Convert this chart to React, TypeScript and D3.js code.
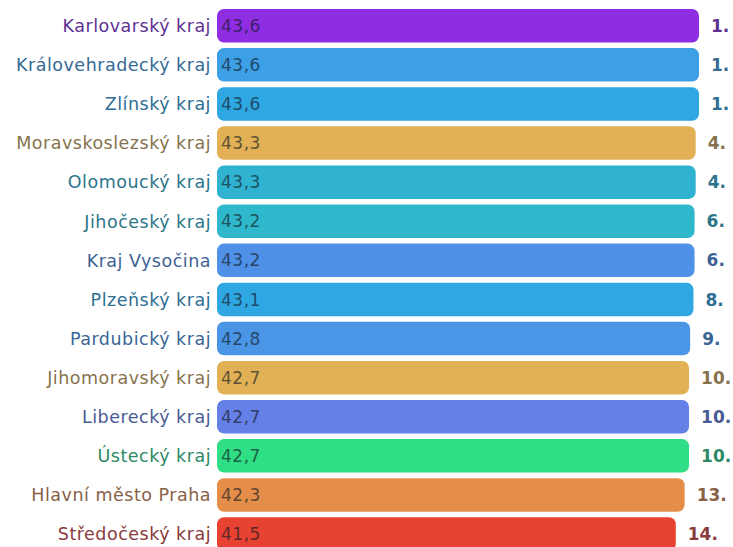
import { useRef, useEffect } from "react";
import * as d3 from "d3";

// kraje, seřazené podle hodnoty
const regions = [
  "Karlovarský kraj",
  "Královehradecký kraj",
  "Zlínský kraj",
  "Moravskoslezský kraj",
  "Olomoucký kraj",
  "Jihočeský kraj",
  "Kraj Vysočina",
  "Plzeňský kraj",
  "Pardubický kraj",
  "Jihomoravský kraj",
  "Liberecký kraj",
  "Ústecký kraj",
  "Hlavní město Praha",
  "Středočeský kraj",
];
const values = [43.6, 43.6, 43.6, 43.3, 43.3, 43.2, 43.2, 43.1, 42.8, 42.7, 42.7, 42.7, 42.3, 41.5];
const ranks = [1, 1, 1, 4, 4, 6, 6, 8, 9, 10, 10, 10, 13, 14];
const barColors = [
  "#8e2de2",
  "#3d9fe6",
  "#2fa7e2",
  "#e2b155",
  "#2fb3d1",
  "#2fb8cc",
  "#4f91e6",
  "#2fa7e2",
  "#4a95e6",
  "#e2b155",
  "#6580e6",
  "#30de85",
  "#e58e4a",
  "#e84233",
];

const width = 733;
const height = 547;

const App = () => {
  const ref = useRef<SVGSVGElement>(null);

  useEffect(() => {
    const svg = d3.select(ref.current);
    svg.selectAll("*").remove();

    const x = d3.scaleLinear().domain([0, 43.6]).range([217, 699]);
    const y = d3
      .scaleBand<string>()
      .domain(regions)
      .range([9, 550.8])
      .paddingInner(0.143)
      .paddingOuter(0);

    const labelColor = (c: string) => d3.interpolateRgb(c, "#2a3444")(0.5);
    const valueColor = (c: string) => d3.interpolateRgb(c, "#101820")(0.62);

    const rows = svg
      .selectAll("g.row")
      .data(regions)
      .join("g")
      .attr("class", "row");

    rows
      .append("rect")
      .attr("x", x(0))
      .attr("y", (d) => y(d)!)
      .attr("width", (_, i) => x(values[i]) - x(0))
      .attr("height", y.bandwidth())
      .attr("rx", 7)
      .attr("fill", (_, i) => barColors[i]);

    // název kraje vlevo
    rows
      .append("text")
      .attr("x", x(0) - 6)
      .attr("y", (d) => y(d)! + y.bandwidth() / 2)
      .attr("dy", "0.36em")
      .attr("text-anchor", "end")
      .attr("fill", (_, i) => labelColor(barColors[i]))
      .style("font-size", "17.5px")
      .style("letter-spacing", "0.5px")
      .text((d) => d);

    // hodnota v pruhu
    rows
      .append("text")
      .attr("x", x(0) + 4)
      .attr("y", (d) => y(d)! + y.bandwidth() / 2)
      .attr("dy", "0.36em")
      .attr("fill", (_, i) => valueColor(barColors[i]))
      .style("font-size", "17px")
      .style("letter-spacing", "0.5px")
      .text((_, i) => d3.format(".1f")(values[i]).replace(".", ","));

    // pořadí vpravo
    rows
      .append("text")
      .attr("x", (_, i) => x(values[i]) + 12)
      .attr("y", (d) => y(d)! + y.bandwidth() / 2)
      .attr("dy", "0.36em")
      .attr("fill", (_, i) => labelColor(barColors[i]))
      .style("font-size", "17px")
      .style("font-weight", "bold")
      .text((_, i) => ranks[i] + ".");
  }, []);

  return (
    <svg
      ref={ref}
      width={width}
      height={height}
      style={{
        position: "absolute",
        left: 0,
        top: 0,
        fontFamily: "'DejaVu Sans', sans-serif",
        background: "#fff",
      }}
    />
  );
};

export default App;
